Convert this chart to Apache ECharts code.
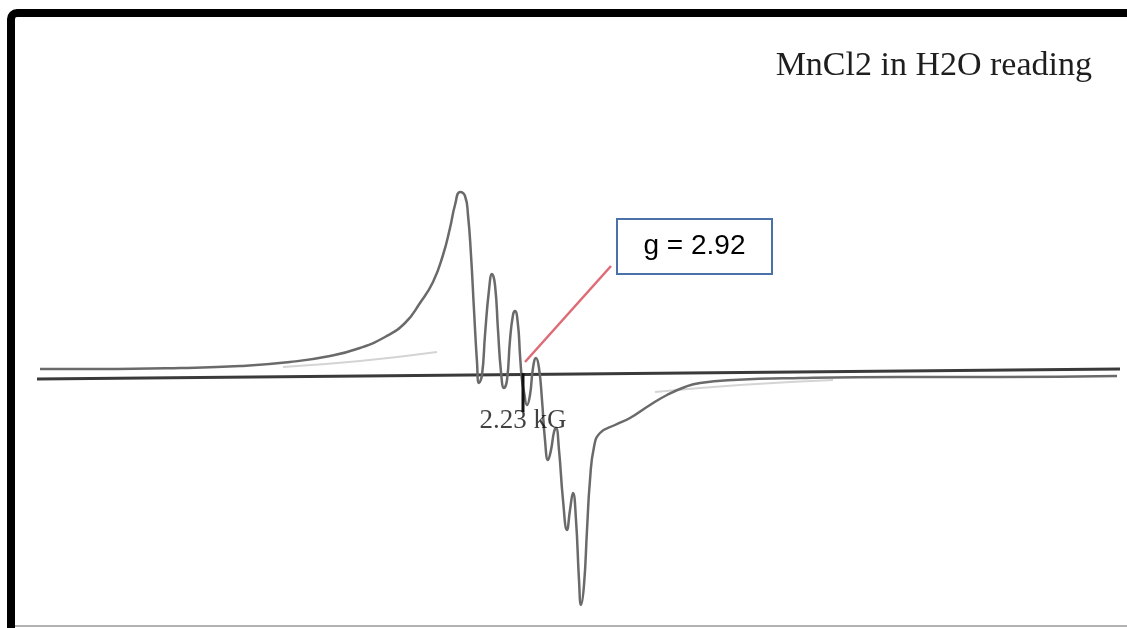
<!DOCTYPE html>
<html>
<head>
<meta charset="utf-8">
<script src="https://cdn.jsdelivr.net/npm/echarts@6/dist/echarts.min.js"></script>
<style>
html,body{margin:0;padding:0;background:#fff;}
#chart{width:1127px;height:628px;}
</style>
</head>
<body>
<div id="chart"></div>
<script>
// Field (a.u., read along the sweep) and derivative intensity (a.u., baseline = 0)
var field = [40,100,180,240,290,330,360,385,405,420,433,443,450,455,460,465,468,471,474,477,479,482,485,489,492,495,498,501,504,507,510,513,515,518,520,522,524,527,530,533,536,539,542,545,548,551,554,556,559,563,567,570,573,576,579,581,584,587,590,594,600,615,630,650,667,685,700,733,800,900,1000,1117];
var intensity = [6,6,7,9,13,19,27,38,52,72,93,120,147,170,183,179,160,120,65,13,-8,0,40,85,101,90,45,3,-13,-5,35,60,64,50,20,-5,-17,-30,-20,7,17,7,-25,-65,-85,-75,-57,-53,-75,-125,-155,-135,-118,-145,-205,-230,-210,-155,-105,-72,-58,-50,-43,-30,-20,-12,-8,-5,-3,-2,-2,-1];
// faint background traces
var faintLeftField = [283,360,437];
var faintLeftVal = [8,14,23];
var faintRightField = [655,740,833];
var faintRightVal = [-17,-10,-5];
// reference baseline
var baseField = [37,1120];
var baseVal = [-4,6];
// resonance marker at 2.23 kG
var markerField = [523,523];
var markerVal = [2,-37];
var markerLabel = '2.23 kG';
var markerLabelVal = -46;
// pointer to g-value box
var pointerField = [525,611];
var pointerVal = [13,109];
var gLabel = 'g = 2.92';
var titleText = 'MnCl2 in H2O reading';

function zip(a,b){return a.map(function(v,i){return [v,b[i]];});}

var chart = echarts.init(document.getElementById('chart'));
chart.setOption({
  animation:false,
  backgroundColor:'#fff',
  title:{text:titleText,right:30,top:44,textStyle:{fontFamily:'Liberation Serif',fontSize:34,fontWeight:'normal',color:'#1e1e1e'}},
  grid:{left:0,right:0,top:0,bottom:0},
  xAxis:{type:'value',min:0,max:1127,show:false},
  yAxis:{type:'value',min:-253,max:375,show:false},
  graphic:[
    {type:'rect',shape:{x:11,y:13,width:1300,height:800,r:6},style:{fill:'none',stroke:'#000',lineWidth:8},z:100},
    {type:'line',shape:{x1:15,y1:626,x2:1127,y2:626},style:{stroke:'#999',lineWidth:1.5},z:100},
    {type:'rect',shape:{x:617,y:219,width:155,height:55},style:{fill:'#fff',stroke:'#4a72a8',lineWidth:2},z:50},
    {type:'text',x:694.5,y:246.5,style:{text:gLabel,fontFamily:'Liberation Sans',fontSize:28,fill:'#000',align:'center',verticalAlign:'middle'},z:51}
  ],
  series:[
    {type:'line',data:zip(faintLeftField,faintLeftVal),smooth:true,symbol:'none',lineStyle:{color:'#d4d4d4',width:2},z:1},
    {type:'line',data:zip(faintRightField,faintRightVal),smooth:true,symbol:'none',lineStyle:{color:'#d4d4d4',width:2},z:1},
    {type:'line',data:zip(baseField,baseVal),symbol:'none',lineStyle:{color:'#3a3a3a',width:3},z:2},
    {type:'line',data:zip(field,intensity),smooth:0.5,symbol:'none',lineStyle:{color:'#6a6a6a',width:2.5},z:3},
    {type:'line',data:zip(markerField,markerVal),symbol:'none',lineStyle:{color:'#111',width:3},z:4},
    {type:'scatter',data:[[markerField[0],markerLabelVal]],symbolSize:0,
      label:{show:true,position:'inside',formatter:markerLabel,fontFamily:'Liberation Serif',fontSize:27,color:'#111'},z:5},
    {type:'line',data:zip(pointerField,pointerVal),symbol:'none',lineStyle:{color:'#de6b75',width:2.5},z:4}
  ]
});
</script>
</body>
</html>
